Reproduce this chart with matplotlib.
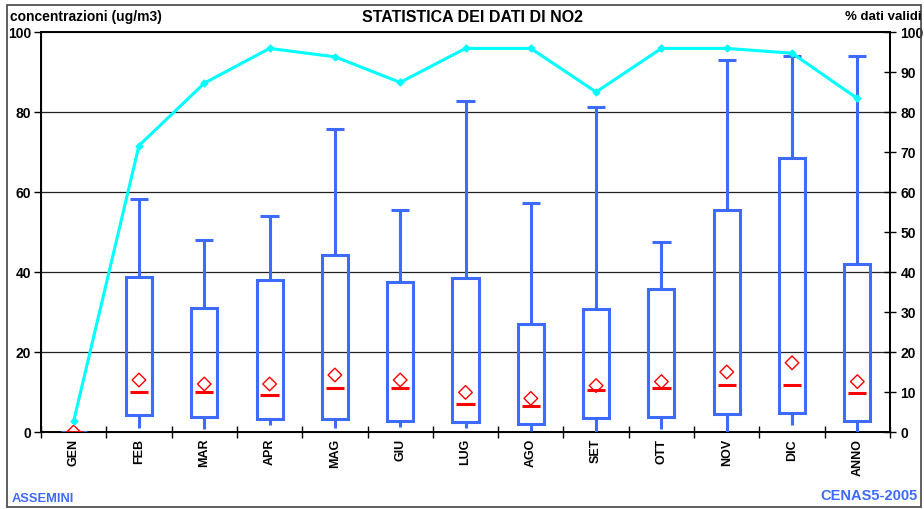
import numpy as np
import matplotlib
matplotlib.use("Agg")
import matplotlib.pyplot as plt
from matplotlib.patches import Rectangle

plt.rcParams['font.family'] = ['Liberation Sans', 'DejaVu Sans']

months = ['GEN', 'FEB', 'MAR', 'APR', 'MAG', 'GIU', 'LUG', 'AGO', 'SET', 'OTT', 'NOV', 'DIC', 'ANNO']
# box statistics (ug/m3)
wmin = [0, 1.1, 0.75, 1.75, 1.1, 1.3, 1.1, 0.3, 0.0, 0.75, 0.0, 1.75, 0.0]
q1 = [0, 4.25, 3.8, 3.25, 3.2, 2.8, 2.4, 2.0, 3.6, 3.7, 4.4, 4.7, 2.8]
median = [0, 10.1, 10.1, 9.25, 11.0, 11.0, 7.1, 6.5, 10.4, 11.1, 11.7, 11.7, 9.8]
mean = [0, 13.0, 12.0, 12.0, 14.25, 13.0, 9.9, 8.4, 11.6, 12.6, 15.0, 17.3, 12.6]
q3 = [0, 38.75, 31.0, 37.9, 44.2, 37.6, 38.4, 27.0, 30.7, 35.8, 55.6, 68.6, 42.0]
wmax = [0, 58.2, 47.9, 53.9, 75.8, 55.4, 82.8, 57.2, 81.25, 47.6, 92.9, 94.0, 93.9]
# % valid data
valid = [2.7, 71.6, 87.2, 95.9, 93.8, 87.4, 95.9, 95.9, 85.0, 95.9, 95.9, 94.7, 83.4]

blue = '#3d6bff'
x = np.arange(len(months))

fig = plt.figure(figsize=(9.24, 5.09), dpi=100)
ax = fig.add_axes([41/924, 1 - 432/509, 849/924, 400/509])

for y in [20, 40, 60, 80]:
    ax.axhline(y, color='#222222', lw=0.9, zorder=0)

q1a, q3a = np.array(q1), np.array(q3)
ax.bar(x, q3a - q1a, bottom=q1a, width=0.4, facecolor='none',
       edgecolor=blue, linewidth=2.2, zorder=3)
ax.vlines(x, q3a, wmax, color=blue, lw=2.2, zorder=3)
ax.vlines(x, wmin, q1a, color=blue, lw=2.2, zorder=3)
ax.hlines(wmax, x - 0.14, x + 0.14, color=blue, lw=2.2, zorder=3)
ax.hlines(median, x - 0.14, x + 0.14, color='#ff0000', lw=2.2, zorder=4)
ax.scatter(x, mean, marker='D', s=48, facecolor='none', edgecolor='#ff0000',
           linewidth=1.0, zorder=5)

ax.set_xlim(-0.5, len(months) - 0.5)
ax.set_ylim(0, 100)
ax.set_yticks(range(0, 101, 20))
ax.set_xticks(x)
ax.set_xticklabels(months, rotation=90, fontsize=9, fontweight='bold')
ax.set_xticks(np.arange(-0.5, len(months)), minor=True)
ax.tick_params(axis='x', which='major', length=0, pad=5)
ax.tick_params(axis='x', which='minor', direction='inout', length=8, width=1)
ax.tick_params(axis='y', direction='out', length=5, width=1, labelsize=10, pad=2)
for lab in ax.get_yticklabels():
    lab.set_fontweight('bold')
for s in ax.spines.values():
    s.set_linewidth(1.4)
    s.set_color('black')

ax2 = ax.twinx()
ax2.plot(x, valid, color='#00ffff', lw=2.2, marker='D', markersize=3.5, zorder=6)
ax2.set_ylim(0, 100)
ax2.set_yticks(range(0, 101, 10))
ax2.tick_params(axis='y', direction='inout', length=8, width=1, labelsize=10)
for lab in ax2.get_yticklabels():
    lab.set_fontweight('bold')
ax2.spines['right'].set_linewidth(1.4)

fig.text(10/924, 1 - 17/509, 'concentrazioni (ug/m3)', fontsize=10, fontweight='bold', va='center', ha='left')
fig.text(472/924, 1 - 18/509, 'STATISTICA DEI DATI DI NO2', fontsize=11.5, fontweight='bold', va='center', ha='center')
fig.text(922/924, 1 - 17/509, '% dati validi', fontsize=9.5, fontweight='bold', va='center', ha='right')
fig.text(12/924, 1 - 499/509, 'ASSEMINI', fontsize=9.3, fontweight='bold', color=blue, va='center', ha='left')
fig.text(918/924, 1 - 496/509, 'CENAS5-2005', fontsize=10.5, fontweight='bold', color=blue, va='center', ha='right')

fig.add_artist(Rectangle((7/924, 1 - 507/509), 914/924, 502/509, transform=fig.transFigure,
                         fill=False, edgecolor='#444444', linewidth=1.2))

fig.savefig('out.png', dpi=100)
